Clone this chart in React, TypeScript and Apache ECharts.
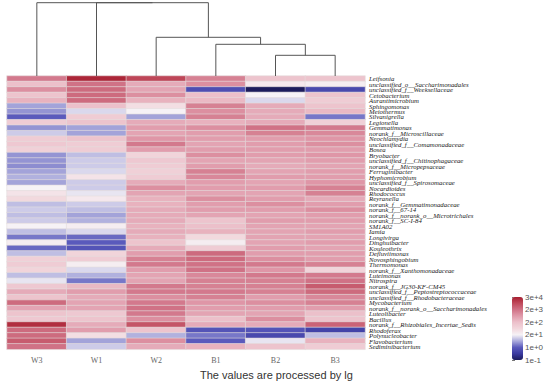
import React, { useEffect, useRef } from "react";
import * as echarts from "echarts";

const samples = ["W3", "W1", "W2", "B1", "B2", "B3"];

const taxa = [
  "Leifsonia", "unclassified_o__Saccharimonadales", "unclassified_f__Weeksellaceae", "Cetobacterium",
  "Aurantimicrobium", "Sphingomonas", "Meiothermus", "Silvanigrella", "Legionella", "Gemmatimonas",
  "norank_f__Microscillaceae", "Neochlamydia", "unclassified_f__Comamonadaceae", "Bosea", "Bryobacter",
  "unclassified_f__Chitinophagaceae", "norank_f__Micropepsaceae", "Ferruginibacter", "Hyphomicrobium",
  "unclassified_f__Spirosomaceae", "Nocardioides", "Rhodococcus", "Reyranella",
  "norank_f__Gemmatimonadaceae", "norank_f__67-14", "norank_f__norank_o__Microtrichales",
  "norank_f__SC-I-84", "SM1A02", "Iamia", "Longivirga", "Dinghuibacter", "Kouleothrix",
  "Defluviimonas", "Novosphingobium", "Thermomonas", "norank_f__Xanthomonadaceae", "Luteimonas",
  "Nitrospira", "norank_f__JG30-KF-CM45", "unclassified_f__Peptostreptococcaceae",
  "unclassified_f__Rhodobacteraceae", "Mycobacterium", "norank_f__norank_o__Saccharimonadales",
  "Luteolibacter", "Bacillus", "norank_f__Rhizobiales_Incertae_Sedis", "Rhodoferax",
  "Polynucleobacter", "Flavobacterium", "Sediminibacterium",
];

// lg-processed abundances, one array per sample (same order as taxa)
const W3 = [3.3, 2.3, 3.0, 2.2, 2.5, 0.6, 0.5, 0.1, 2.0, 0.5, 0.9, 2.0, 2.1, 1.9, 0.5, 0.5, 0.45, 0.6, 0.7, 0.6, 1.2, 1.5, 1.7, 0.8, 0.9, 0.8, 0.9, 1.2, 0.8, 0.3, 1.3, 0.2, 0.8, 1.9, 2.0, 1.8, 0.8, 1.1, 2.1, 2.6, 2.2, 3.5, 2.7, 2.2, 2.1, 4.3, 3.5, 3.5, 3.7, 3.4];
const W1 = [4.4, 3.4, 3.5, 3.5, 3.5, 2.3, 1.0, 2.0, 2.2, 0.6, 0.6, 2.2, 2.0, 2.0, 0.8, 0.9, 0.9, 1.0, 1.5, 0.9, 0.9, 1.1, 1.4, 0.9, 0.8, 0.6, 0.7, 1.3, 1.0, 0.2, 0.1, 0.0, 1.8, 2.0, 1.3, 1.0, 0.7, 0.3, 2.4, 2.8, 2.6, 2.7, 2.7, 2.1, 2.2, 2.6, 2.8, 1.6, 0.6, 0.9];
const W2 = [4.0, 2.6, 2.7, 3.0, 2.5, 1.6, 1.2, 0.6, 2.6, 2.8, 2.7, 2.9, 3.3, 2.8, 1.8, 2.1, 2.0, 1.9, 2.0, 2.6, 3.0, 2.7, 2.5, 2.5, 2.6, 2.6, 2.6, 2.5, 2.6, 2.5, 2.2, 2.6, 2.8, 3.2, 3.3, 2.8, 2.7, 2.7, 3.3, 3.3, 3.0, 3.3, 3.4, 3.3, 3.0, 3.8, 2.2, 0.7, 3.0, 2.6];
const B1 = [3.2, 3.0, -0.1, 2.3, 2.4, 3.2, 3.0, 3.2, 2.5, 3.0, 2.8, 2.8, 2.7, 2.8, 3.0, 2.7, 2.8, 3.2, 3.1, 2.8, 2.8, 2.7, 3.0, 2.8, 2.8, 2.7, 2.2, 2.3, 2.5, 1.7, 1.3, 2.0, 3.5, 3.5, 3.4, 3.4, 3.1, 3.2, 3.2, 3.3, 3.2, 2.9, 2.8, 2.7, 2.3, 2.6, 0.0, 0.3, 0.1, 2.5];
const B2 = [2.2, 1.4, -1.0, 1.2, 1.0, 2.6, 2.6, 2.6, 2.6, 3.4, 3.2, 2.8, 2.8, 2.8, 2.8, 2.7, 2.6, 2.7, 2.8, 2.7, 2.8, 2.7, 2.8, 3.0, 2.8, 2.7, 2.8, 2.7, 2.7, 2.7, 2.7, 2.8, 2.8, 3.0, 3.3, 2.9, 3.3, 3.2, 3.2, 3.2, 2.8, 3.0, 2.8, 2.7, 3.0, 2.6, 0.0, -0.2, 1.1, 2.2];
const B3 = [2.2, 1.3, -0.2, 2.2, 2.0, 2.2, 2.4, 0.3, 1.9, 3.3, 3.1, 2.9, 3.0, 2.8, 2.9, 2.8, 2.7, 2.8, 2.8, 2.9, 3.2, 3.2, 2.6, 2.8, 3.0, 2.8, 2.8, 2.7, 2.8, 2.7, 2.8, 2.7, 2.8, 2.8, 3.2, 1.8, 3.3, 3.4, 3.7, 3.5, 3.1, 3.2, 2.8, 2.3, 2.2, 3.6, -0.3, 0.8, 2.5, 2.0];

const columnValues = [W3, W1, W2, B1, B2, B3];

// sample clustering: [left, right, height]; ids 0-5 are leaves, 6+ are merged nodes in order
const linkage: [number, number, number][] = [
  [4, 5, 20.7],
  [3, 6, 31.7],
  [2, 7, 38.7],
  [1, 8, 73.3],
  [0, 9, 73.3],
];

const colorbarLabels = ["1e-1", "1e+0", "2e+1", "2e+2", "2e+3", "3e+4"];
const scaleMin = -1;
const scaleMax = 4.5;
const palette = ["#1c1c5c", "#3a3aa0", "#5a5abc", "#aaaadc", "#f6f2f6", "#f2d6dc", "#ecc0ca", "#e09aaa", "#d07286", "#c04a5c", "#a81e30"];

export default function App() {
  const ref = useRef<HTMLDivElement>(null);
  useEffect(() => {
    if (!ref.current) return;
    const chart = echarts.init(ref.current, null, { renderer: "svg" });

    const heatData: number[][] = [];
    columnValues.forEach((col, ci) => col.forEach((v, ri) => heatData.push([ci, ri, v])));

    // dendrogram links
    const pos: number[] = samples.map((_, i) => i + 0.5);
    const hts: number[] = samples.map(() => 0);
    const links: number[][] = [];
    linkage.forEach(([a, b, h]) => {
      links.push([pos[a], pos[b], hts[a], hts[b], h]);
      pos.push((pos[a] + pos[b]) / 2);
      hts.push(h);
    });

    const left = 7;
    const width = 358;

    chart.setOption({
      animation: false,
      backgroundColor: "#ffffff",
      title: {
        text: "The values are processed by lg",
        left: 200,
        top: 369,
        padding: 0,
        textStyle: { fontSize: 11, fontWeight: "normal", color: "#333", fontFamily: "Liberation Sans" },
      },
      grid: [
        { left, top: 76, width, height: 273.3 },
        { left, top: 2, width, height: 74 },
        { left: 512, top: 297, width: 11, height: 63 },
      ],
      xAxis: [
        {
          gridIndex: 0,
          type: "category",
          data: samples,
          axisLine: { show: false },
          axisTick: { show: false },
          axisLabel: { fontSize: 8, color: "#666", fontFamily: "Liberation Serif", margin: 7 },
        },
        { gridIndex: 1, type: "value", min: 0, max: 6, show: false },
        { gridIndex: 2, type: "value", show: false, min: 0, max: 1 },
      ],
      yAxis: [
        {
          gridIndex: 0,
          type: "category",
          data: taxa,
          inverse: true,
          position: "right",
          axisLine: { show: false },
          axisTick: { show: false },
          axisLabel: {
            interval: 0,
            fontSize: 6.8,
            lineHeight: 5.4,
            fontStyle: "italic",
            color: "#222",
            fontFamily: "Liberation Serif",
            margin: 4,
          },
        },
        { gridIndex: 1, type: "value", min: 0, max: 74, show: false },
        {
          gridIndex: 2,
          type: "category",
          data: colorbarLabels,
          boundaryGap: false,
          position: "right",
          axisLine: { show: false },
          axisTick: { show: true, length: 3, lineStyle: { color: "#777" } },
          axisLabel: { fontSize: 8, color: "#555", margin: 2, fontFamily: "Liberation Sans" },
          splitLine: { show: false },
        },
      ],
      visualMap: {
        type: "continuous",
        seriesIndex: 0,
        min: scaleMin,
        max: scaleMax,
        orient: "vertical",
        left: 512,
        top: 297,
        padding: 0,
        itemWidth: 11,
        itemHeight: 63,
        calculable: false,
        hoverLink: false,
        text: ["", ""],
        inRange: { color: palette },
      },
      series: [
        {
          type: "heatmap",
          xAxisIndex: 0,
          yAxisIndex: 0,
          data: heatData,
          itemStyle: { borderColor: "#e4dede", borderWidth: 0.6 },
          emphasis: { disabled: true },
        },
        {
          type: "custom",
          xAxisIndex: 1,
          yAxisIndex: 1,
          data: links,
          encode: { x: [0, 1], y: [2, 3, 4] },
          renderItem: (params: any, api: any) => {
            const xL = api.value(0), xR = api.value(1), hL = api.value(2), hR = api.value(3), hM = api.value(4);
            const pts = [api.coord([xL, hL]), api.coord([xL, hM]), api.coord([xR, hM]), api.coord([xR, hR])];
            return {
              type: "polyline",
              shape: { points: pts },
              style: { stroke: "#555", fill: null, lineWidth: 1 },
            };
          },
        },
      ],
    });
    return () => chart.dispose();
  }, []);
  return <div ref={ref} style={{ position: "fixed", left: 0, top: 0, width: 554, height: 387 }} />;
}
